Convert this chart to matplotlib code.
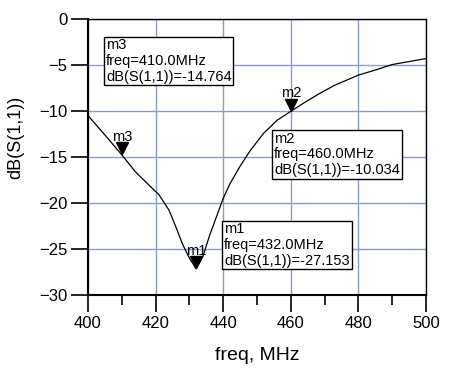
import matplotlib
matplotlib.use("Agg")
import matplotlib.pyplot as plt

freq = [400, 405, 410, 414, 419, 421, 424, 426, 428, 430, 432, 434, 436, 438, 440,
        442, 445, 448, 452, 456, 460, 464, 468, 473, 480, 485, 490, 500]
s11_db = [-10.5, -12.6, -14.764, -16.6, -18.4, -19.1, -20.8, -22.6, -24.5, -26.0, -27.153,
          -25.8, -23.5, -21.5, -19.5, -17.9, -16.0, -14.3, -12.4, -11.0, -10.034, -9.1,
          -8.2, -7.2, -6.1, -5.55, -4.95, -4.3]

markers = ["m1", "m2", "m3"]
marker_freq = [432.0, 460.0, 410.0]
marker_val = [-27.153, -10.034, -14.764]
# box anchor (upper-left) in data coords
box_pos = [(440.3, -22.1), (455.0, -12.25), (405.3, -2.1)]

xticks = [400, 420, 440, 460, 480, 500]
yticks = [0, -5, -10, -15, -20, -25, -30]

plt.rcParams['font.family'] = ['Liberation Sans', 'DejaVu Sans']

fig = plt.figure(figsize=(4.62, 3.79), dpi=100)
ax = fig.add_axes([88/462, 1-295/379, (426-88)/462, (295-19)/379])

ax.plot(freq, s11_db, color='black', lw=0.9, zorder=3)
ax.set_xlim(400, 500)
ax.set_ylim(-30, 0)
ax.set_xticks(xticks)
ax.set_yticks(yticks)
ax.set_xticks([410, 430, 450, 470, 490], minor=True)
ax.grid(True, which='major', color='#8c9cc4', lw=1.0, zorder=0)
ax.tick_params(axis='both', which='major', direction='out', length=12, width=1.2,
               labelsize=12, colors='black', pad=3)
ax.tick_params(axis='x', which='minor', direction='out', length=7, width=1.2)
ax.tick_params(axis='y', which='minor', length=0)
for s in ['left', 'bottom']:
    ax.spines[s].set_linewidth(1.5)
for s in ['top', 'right']:
    ax.spines[s].set_linewidth(1.0)

ax.set_xlabel('freq, MHz', fontsize=14, labelpad=12)
ax.set_ylabel('dB(S(1,1))', fontsize=13, labelpad=6)
ax.yaxis.set_label_coords(-0.19, 0.57)

for name, f, v, (bx, by) in zip(markers, marker_freq, marker_val, box_pos):
    ax.plot([f], [v + 0.7], marker='v', color='black', ms=8, zorder=5)
    ax.text(f, v + 1.2, name, ha='center', va='bottom', fontsize=10.5, zorder=5)
    ax.text(bx, by, f"{name}\nfreq={f:.1f}MHz\ndB(S(1,1))={v:.3f}", ha='left', va='top',
            fontsize=10.5, linespacing=1.15, zorder=6,
            bbox=dict(boxstyle='square,pad=0.12', fc='white', ec='black', lw=1.0))

fig.savefig('out.png', dpi=100)
